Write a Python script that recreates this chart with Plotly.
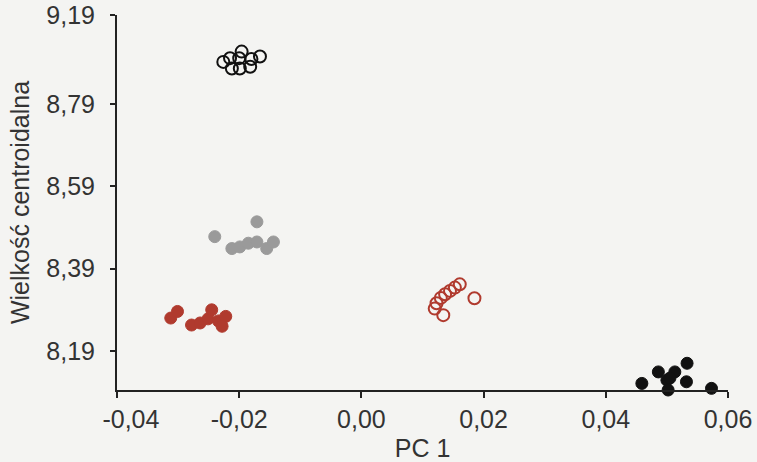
import plotly.graph_objects as go

# PC 1 scores and centroid size for the five groups
open_black_x = [-0.0226, -0.0215, -0.0196, -0.0200, -0.0180, -0.0166, -0.0212, -0.0199, -0.0182]
open_black_y = [8.893, 8.902, 8.918, 8.902, 8.900, 8.906, 8.877, 8.877, 8.881]

grey_x = [-0.0240, -0.0171, -0.0212, -0.0199, -0.0185, -0.0171, -0.0155, -0.0144]
grey_y = [8.468, 8.504, 8.439, 8.443, 8.452, 8.455, 8.439, 8.455]

red_filled_x = [-0.0312, -0.0301, -0.0278, -0.0264, -0.0251, -0.0245, -0.0234, -0.0222, -0.0228]
red_filled_y = [8.270, 8.286, 8.253, 8.258, 8.268, 8.290, 8.263, 8.274, 8.250]

red_open_x = [0.0161, 0.0153, 0.0145, 0.0137, 0.0130, 0.0123, 0.0120, 0.0134, 0.0185]
red_open_y = [8.352, 8.344, 8.336, 8.328, 8.319, 8.306, 8.293, 8.277, 8.318]

black_filled_x = [0.0459, 0.0486, 0.0500, 0.0502, 0.0513, 0.0533, 0.0532, 0.0573, 0.0505]
black_filled_y = [8.111, 8.139, 8.119, 8.095, 8.139, 8.160, 8.115, 8.099, 8.124]

x_tick_vals = [-0.04, -0.02, 0.00, 0.02, 0.04, 0.06]
x_tick_text = ["\u00a0\u00a0\u00a0\u00a0-0,04", "-0,02", "0,00", "0,02", "0,04", "0,06"]
y_tick_vals = [8.19, 8.39, 8.59, 8.79, 9.007]
y_tick_text = ["8,19", "8,39", "8,59", "8,79", "9,19"]

RED = "#b03a2e"
GREY = "#9a9a9a"
BLACK = "#111111"
BG = "#f4f4f2"
FONT = "Liberation Sans, Arial, sans-serif"

fig = go.Figure()


def add_group(x, y, color, hollow):
    if hollow:
        marker = dict(symbol="circle-open", size=12, color=color, line=dict(width=2, color=color))
    else:
        marker = dict(symbol="circle", size=12, color=color, line=dict(width=1, color=color))
    fig.add_trace(go.Scatter(x=x, y=y, mode="markers", marker=marker,
                             showlegend=False, cliponaxis=False))


add_group(open_black_x, open_black_y, BLACK, True)
add_group(grey_x, grey_y, GREY, False)
add_group(red_filled_x, red_filled_y, RED, False)
add_group(red_open_x, red_open_y, RED, True)
add_group(black_filled_x, black_filled_y, BLACK, False)

fig.update_layout(
    width=757, height=462,
    margin=dict(l=117, r=29, t=15, b=72),
    paper_bgcolor=BG, plot_bgcolor=BG,
    font=dict(family=FONT, size=25, color="#333333"),
    xaxis=dict(
        range=[-0.04, 0.06], tickvals=x_tick_vals, ticktext=x_tick_text,
        showgrid=False, zeroline=False, showline=True, linecolor="#222222", linewidth=2,
        ticks="outside", ticklen=6, tickwidth=2, tickcolor="#222222",
        title=dict(text="PC 1", standoff=10, font=dict(size=25)),
        automargin=False,
    ),
    yaxis=dict(
        range=[8.095, 9.007], tickvals=y_tick_vals, ticktext=y_tick_text,
        showgrid=False, zeroline=False, showline=True, linecolor="#222222", linewidth=2,
        ticks="outside", ticklen=5, tickwidth=2, tickcolor="#222222",
        ticklabelstandoff=10,
        title=dict(text="Wielkość centroidalna", standoff=10, font=dict(size=25)),
        automargin=False,
    ),
)

fig.write_html("out.html")
